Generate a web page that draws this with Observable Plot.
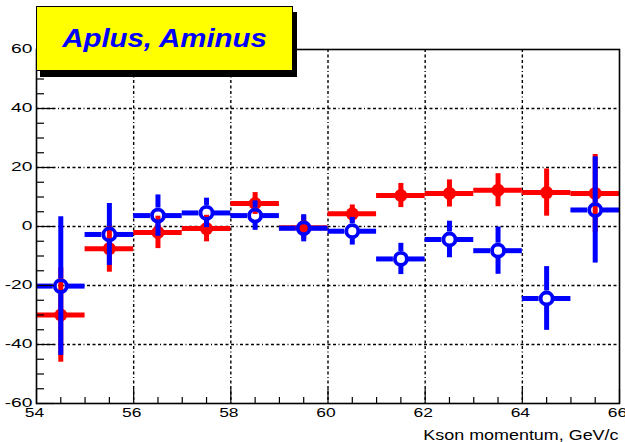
<!DOCTYPE html>
<html>
<head>
<meta charset="utf-8">
<script src="https://cdn.jsdelivr.net/npm/d3@7"></script>
<script src="https://cdn.jsdelivr.net/npm/@observablehq/plot@0.6"></script>
<style>
  html, body { margin: 0; padding: 0; background: #fff; }
  #wrap { position: relative; width: 625px; height: 442px; overflow: hidden; }
  #title {
    position: absolute; left: 36px; top: 6px; width: 255px; height: 63px;
    background: #ffff00; border: 1px solid #000; box-shadow: 4px 6px 0 #000;
    display: flex; align-items: center; justify-content: center;
  }
  #title span {
    font-family: "Liberation Sans", Arial, sans-serif; font-weight: bold; font-style: italic;
    font-size: 26px; color: #0000ff; display: inline-block; transform: scaleX(1.13);
  }
</style>
</head>
<body>
<div id="wrap">
  <div id="chart"></div>
  <div id="title"><span>Aplus, Aminus</span></div>
</div>
<script>
// Bin centres (1 GeV/c wide bins)
const momentum = [54.5, 55.5, 56.5, 57.5, 58.5, 59.5, 60.5, 61.5, 62.5, 63.5, 64.5, 65.5];

// A+ (red, filled circles)
const aplus    = [-30, -7.5, -2, -0.7, 7.8, -0.4, 4.3, 10.5, 11.2, 12.3, 11.5, 11.2];
const aplusErr = [16, 8, 5.5, 4.5, 3.7, 4, 3, 4.1, 4.6, 5.6, 8, 13.2];

// A- (blue, open markers)
const aminus    = [-20.2, -2.7, 3.7, 4.6, 3.7, -0.6, -1.6, -11, -4.4, -8.2, -24.4, 5.6];
const aminusErr = [23.5, 10.5, 7, 5, 5, 4.6, 4.7, 5.3, 6.2, 8, 10.8, 18];

// Axis ticks
const xLabels = [54, 56, 58, 60, 62, 64, 66];
const xMinor  = d3.range(54.5, 66, 0.5).filter(v => v % 2 !== 0);
const yLabels = [-60, -40, -20, 0, 20, 40, 60];
const yMinor  = d3.range(-55, 60, 5).filter(v => v % 20 !== 0);
const xGrid = [56, 58, 60, 62, 64];
const yGrid = [-40, -20, 0, 20, 40];

const halfBin = 0.5;
const red = momentum.map((x, i) => ({x, y: aplus[i], e: aplusErr[i]}));
const blue = momentum.map((x, i) => ({x, y: aminus[i], e: aminusErr[i]}));

const RED = "#ff0000", BLUE = "#0000ff";
const bar = 5;       // error bar thickness
const gap = 7.5;     // blank space around the open marker
const dash = "3,2.5,3,2.5,3,2.5,3,2.5,1,2.5";

const chart = Plot.plot({
  width: 625,
  height: 442,
  marginLeft: 36,
  marginRight: 6,
  marginTop: 49,
  marginBottom: 39,
  style: {fontFamily: "Liberation Sans, Arial, sans-serif", fontSize: "12px", background: "white", color: "#000"},
  x: {domain: [54, 66], label: null},
  y: {domain: [-60, 60], label: null},
  marks: [
    // grid
    Plot.ruleX(xGrid, {stroke: "#000", strokeWidth: 1.4, strokeDasharray: dash}),
    Plot.ruleY(yGrid, {stroke: "#000", strokeWidth: 1.4, strokeDasharray: dash}),

    // A+ error bars and markers
    Plot.ruleY(red, {y: "y", x1: d => d.x - halfBin, x2: d => d.x + halfBin, stroke: RED, strokeWidth: bar}),
    Plot.ruleX(red, {x: "x", y1: d => d.y - d.e, y2: d => d.y + d.e, stroke: RED, strokeWidth: bar}),
    Plot.dot(red, {x: "x", y: "y", r: 6.5, fill: RED}),

    // A- error bars, broken around the open marker
    Plot.ruleY(blue, {y: "y", x1: d => d.x - halfBin, x2: "x", insetRight: gap, stroke: BLUE, strokeWidth: bar}),
    Plot.ruleY(blue, {y: "y", x1: "x", x2: d => d.x + halfBin, insetLeft: gap, stroke: BLUE, strokeWidth: bar}),
    Plot.ruleX(blue, {x: "x", y1: d => d.y + d.e, y2: "y", insetBottom: gap, stroke: BLUE, strokeWidth: bar}),
    Plot.ruleX(blue, {x: "x", y1: "y", y2: d => d.y - d.e, insetTop: gap, stroke: BLUE, strokeWidth: bar}),
    Plot.dot(blue, {x: "x", y: "y", r: 6, fill: "none", stroke: BLUE, strokeWidth: 3.8}),

    // frame
    Plot.frame({stroke: "#000", strokeWidth: 1.6}),

    // inward tick marks
    Plot.ruleX(xMinor, {y1: -60, y2: -60, insetTop: -6, stroke: "#000", strokeWidth: 1.2}),
    Plot.ruleX(xLabels, {y1: -60, y2: -60, insetTop: -14, stroke: "#000", strokeWidth: 1.2}),
    Plot.ruleY(yMinor, {x1: 54, x2: 54, insetRight: -8, stroke: "#000", strokeWidth: 1.2}),
    Plot.ruleY(yLabels, {x1: 54, x2: 54, insetRight: -18, stroke: "#000", strokeWidth: 1.2}),

    // tick labels
    Plot.axisX(xLabels, {tickSize: 0, tickPadding: 5, tickFormat: d => String(d), dx: -2, fontSize: 12}),
    Plot.axisY(yLabels, {tickSize: 0, tickPadding: 4, tickFormat: d => String(d), fontSize: 12}),

    // axis title
    Plot.text(["Kson momentum, GeV/c"], {frameAnchor: "bottom-right", dy: 36, dx: -1, lineAnchor: "bottom", textAnchor: "end", fontSize: 14, fill: "#000"})
  ]
});

document.getElementById("chart").appendChild(chart);

// widen the label glyphs the way the original bitmap font renders them
function stretch(selector, factor) {
  chart.querySelectorAll(selector).forEach(t => {
    const w = t.getComputedTextLength();
    t.setAttribute("textLength", (w * factor).toFixed(1));
    t.setAttribute("lengthAdjust", "spacingAndGlyphs");
  });
}
stretch('g[aria-label="y-axis tick label"] text', 1.6);
stretch('g[aria-label="x-axis tick label"] text', 1.45);
stretch('g[aria-label="text"] text', 1.28);
</script>
</body>
</html>
